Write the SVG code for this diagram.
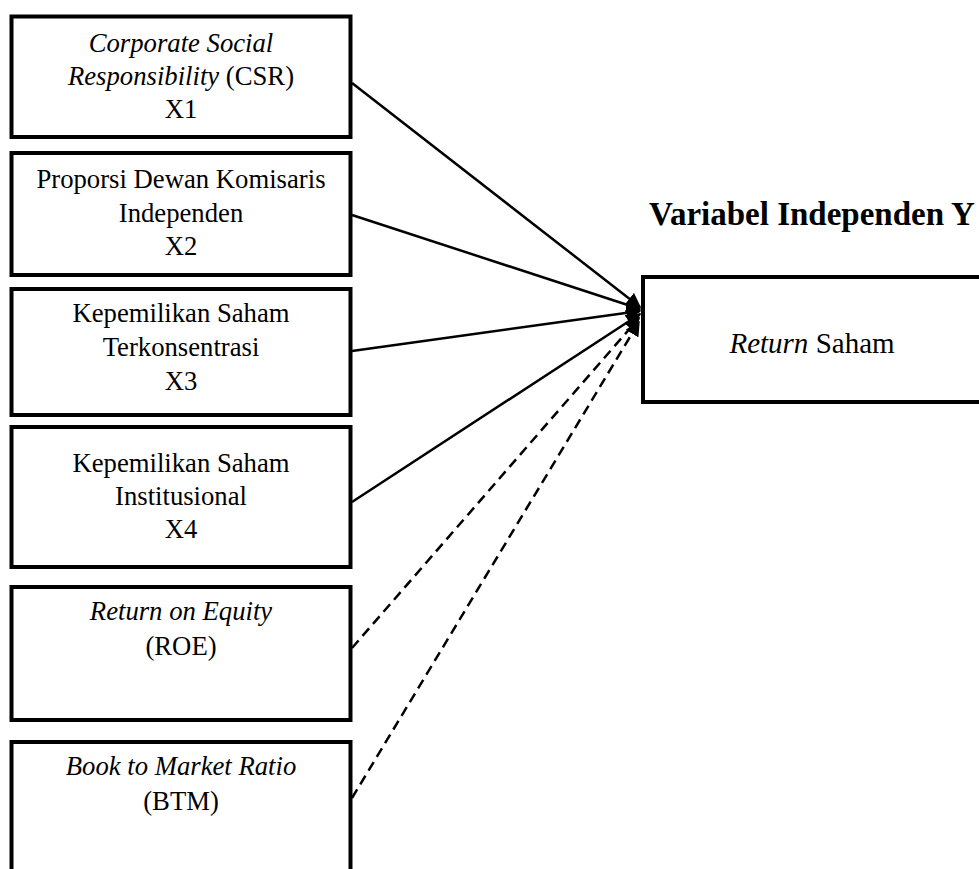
<svg xmlns="http://www.w3.org/2000/svg" width="979" height="869" viewBox="0 0 979 869">
<style>
.box{fill:#fff;stroke:#000;stroke-width:4}
.t{font-family:"Liberation Serif","Times New Roman",serif;font-size:26.7px;fill:#000;text-anchor:middle}
.i{font-style:italic}
.ln{stroke:#000;stroke-width:2.5;fill:none;marker-end:url(#ah)}
.d{stroke-dasharray:10 6}
</style>
<defs>
<marker id="ah" viewBox="0 0 10 10" refX="9" refY="5" markerWidth="6" markerHeight="6" markerUnits="strokeWidth" orient="auto">
<path d="M0,0 L10,5 L0,10 z" fill="#000"/>
</marker>
</defs>
<rect width="979" height="869" fill="#fff"/>
<g id="x1">
<rect class="box" x="11.5" y="16.5" width="339" height="120.5"/>
<text class="t i" x="181" y="52">Corporate Social</text>
<text class="t" x="181" y="85"><tspan class="i">Responsibility</tspan> (CSR)</text>
<text class="t" x="181" y="118">X1</text>
</g>
<g id="x2">
<rect class="box" x="11.5" y="153" width="339" height="122"/>
<text class="t" x="181" y="188">Proporsi Dewan Komisaris</text>
<text class="t" x="181" y="222">Independen</text>
<text class="t" x="181" y="255">X2</text>
</g>
<g id="x3">
<rect class="box" x="11.5" y="289" width="339" height="126"/>
<text class="t" x="181" y="322">Kepemilikan Saham</text>
<text class="t" x="181" y="356">Terkonsentrasi</text>
<text class="t" x="181" y="390">X3</text>
</g>
<g id="x4">
<rect class="box" x="11.5" y="427" width="339" height="140"/>
<text class="t" x="181" y="472">Kepemilikan Saham</text>
<text class="t" x="181" y="505">Institusional</text>
<text class="t" x="181" y="538">X4</text>
</g>
<g id="roe">
<rect class="box" x="11.5" y="587" width="339" height="133"/>
<text class="t i" x="181" y="620">Return on Equity</text>
<text class="t" x="181" y="655">(ROE)</text>
</g>
<g id="btm">
<rect class="box" x="11.5" y="742" width="339" height="150"/>
<text class="t i" x="181" y="775">Book to Market Ratio</text>
<text class="t" x="181" y="810">(BTM)</text>
</g>
<g id="y">
<text x="812" y="225" font-family="Liberation Serif, Times New Roman, serif" font-size="33px" font-weight="bold" text-anchor="middle">Variabel Independen Y</text>
<rect class="box" x="643" y="277" width="350" height="125"/>
<text x="812" y="353" font-family="Liberation Serif, Times New Roman, serif" font-size="29px" text-anchor="middle"><tspan font-style="italic">Return</tspan> Saham</text>
</g>
<g id="connectors">
<line class="ln" x1="352" y1="83" x2="640" y2="307"/>
<line class="ln" x1="352" y1="215" x2="640" y2="309"/>
<line class="ln" x1="352" y1="351" x2="640" y2="311"/>
<line class="ln" x1="352" y1="502" x2="640" y2="314"/>
<line class="ln d" x1="352" y1="648" x2="639" y2="318"/>
<line class="ln d" x1="352" y1="798" x2="639" y2="322"/>
</g>
</svg>
